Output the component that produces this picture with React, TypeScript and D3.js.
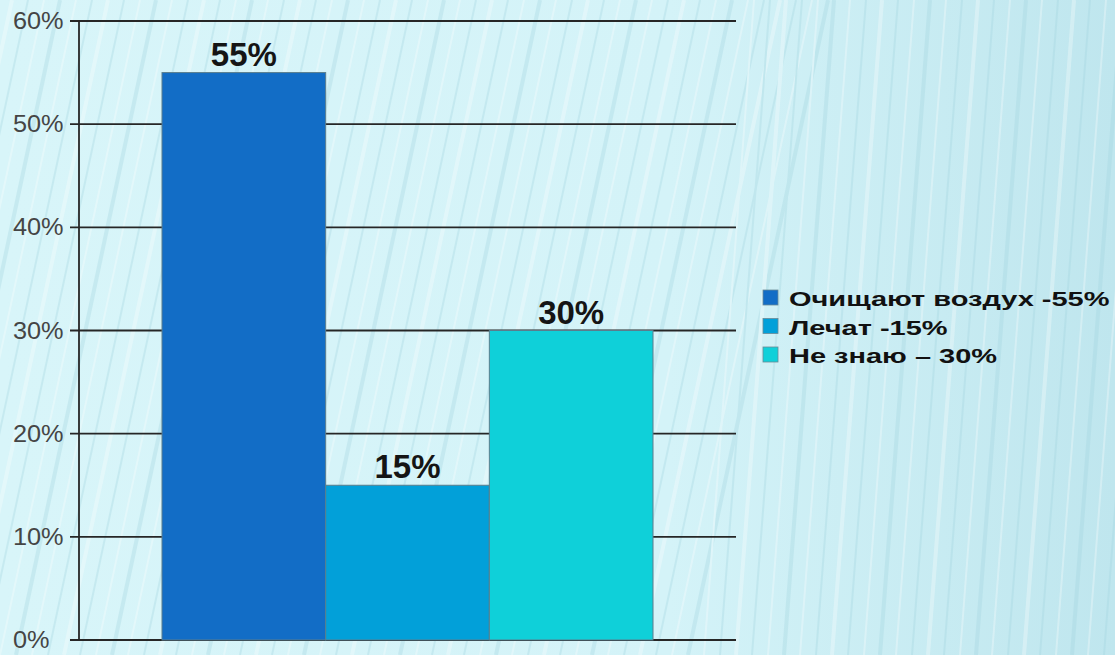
import React from "react";
import * as d3 from "d3";

const categories = ["Очищают воздух -55%", "Лечат -15%", "Не знаю – 30%"];
const values = [55, 15, 30];
const colors = ["#126dc6", "#02a0d9", "#0fd0d9"];
const yTicks = [0, 10, 20, 30, 40, 50, 60];

const W = 1115;
const H = 655;
const FONT = "Liberation Sans, Arial, sans-serif";

export default function App() {
  const x = d3.scaleBand<string>().domain(categories).range([162, 653]).padding(0);
  const y = d3.scaleLinear().domain([0, 60]).range([640, 21]);
  const stripes = d3.range(-20, 80).map((i) => i * 16);
  return (
    <div style={{ position: "absolute", left: 0, top: 0 }}>
      <svg width={W} height={H} style={{ display: "block" }}>
        <defs>
          <linearGradient id="bg" x1="0" y1="0" x2="1" y2="0">
            <stop offset="0" stopColor="#d8f5f9" />
            <stop offset="0.6" stopColor="#d4f3f8" />
            <stop offset="1" stopColor="#bfe6ee" />
          </linearGradient>
        </defs>
        <rect x={0} y={0} width={W} height={H} fill="url(#bg)" />
        <g opacity={0.3}>
          {stripes.map((sx, i) => (
            <line
              key={i}
              x1={sx}
              y1={H}
              x2={sx + (sx < 700 ? 140 : 50)}
              y2={0}
              stroke={i % 2 ? "#9fd3de" : "#ffffff"}
              strokeWidth={i % 3 === 0 ? 4 : 2}
            />
          ))}
        </g>
        {/* gridlines */}
        {yTicks.map((t) => (
          <line key={t} x1={70} x2={736} y1={y(t)} y2={y(t)} stroke="#262626" strokeWidth={1.8} />
        ))}
        <line x1={79} x2={79} y1={y(60)} y2={y(0)} stroke="#262626" strokeWidth={1.8} />
        {/* tick labels */}
        {yTicks.map((t) => (
          <text
            key={t}
            transform={`translate(13, ${t === 0 ? 648 : y(t) + 8}) scale(1.1, 1)`}
            fontFamily={FONT}
            fontSize={23}
            fill="#454545"
          >
            {t}%
          </text>
        ))}
        {/* bars */}
        {categories.map((c, i) => (
          <rect
            key={c}
            x={x(c)}
            y={y(values[i])}
            width={x.bandwidth()}
            height={y(0) - y(values[i])}
            fill={colors[i]}
            stroke="#5a7d8c"
            strokeWidth={1}
          />
        ))}
        {/* value labels */}
        {categories.map((c, i) => (
          <text
            key={c}
            x={(x(c) as number) + x.bandwidth() / 2}
            y={y(values[i]) - 7}
            textAnchor="middle"
            fontFamily={FONT}
            fontWeight="bold"
            fontSize={33}
            fill="#151515"
          >
            {values[i]}%
          </text>
        ))}
        {/* legend */}
        {categories.map((c, i) => (
          <g key={c} transform={`translate(763, ${290 + i * 28.5})`}>
            <rect x={0} y={0} width={15} height={15} fill={colors[i]} stroke="#6a8a96" strokeWidth={0.8} />
            <text
              transform="translate(26, 16) scale(1.38, 1)"
              fontFamily={FONT}
              fontWeight="bold"
              fontSize={21}
              fill="#111"
            >
              {c}
            </text>
          </g>
        ))}
      </svg>
    </div>
  );
}
